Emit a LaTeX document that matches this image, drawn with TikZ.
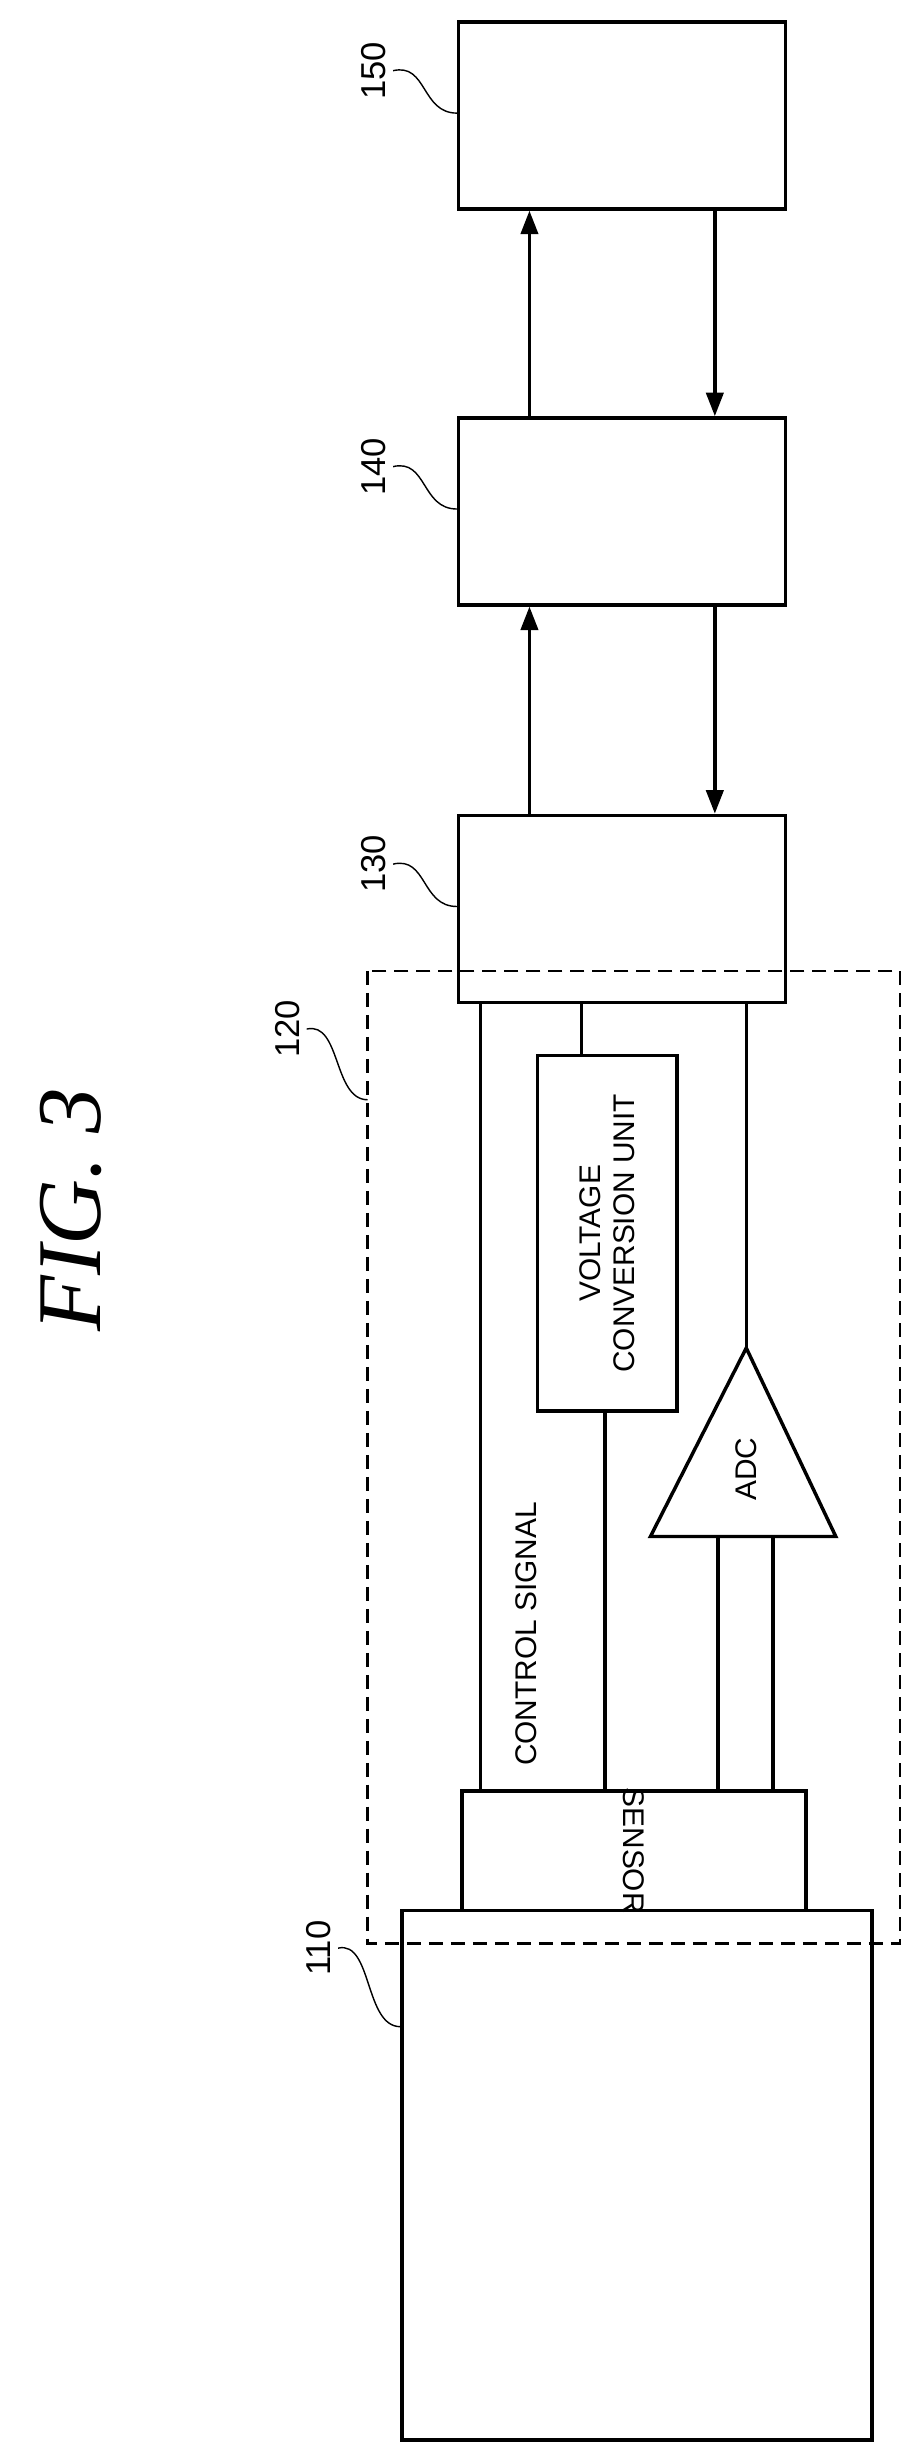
\documentclass[tikz,border=0pt]{standalone}
\usepackage{fontspec}
\setmainfont{Liberation Sans}
\newfontfamily\figfont{Liberation Serif}
\usetikzlibrary{arrows.meta}
\tikzstyle{blk} = [draw, line width=2.2pt, inner sep=0pt]
\tikzstyle{lbl} = [rotate=90, font=\fontsize{22}{22}\selectfont]
\tikzstyle{txt} = [rotate=90, font=\fontsize{19}{22}\selectfont, align=center]
\tikzset{>={Triangle[length=15pt,width=11pt]}, every picture/.style={line width=2.2pt}}
\begin{document}
\begin{tikzpicture}[x=1pt, y=-1pt]
\useasboundingbox (0,0) rectangle (585,1562);
\node[rotate=90, font=\figfont\itshape\fontsize{58}{58}\selectfont] (fig) at (45,770) {FIG. 3};
% blocks
\node[blk, minimum width=208pt, minimum height=119pt] (b150) at (396,73.5) {};
\node[blk, minimum width=208pt, minimum height=119pt] (b140) at (396,325.5) {};
\node[blk, minimum width=208pt, minimum height=119pt] (b130) at (396,578.5) {};
\node[blk, minimum width=299pt, minimum height=337pt] (b110) at (405.5,1384.5) {};
\node[blk, minimum width=219pt, minimum height=76pt] (sensor) at (403.5,1178) {};
\node[rotate=270, anchor=center, font=\fontsize{19}{22}\selectfont] (stext) at (403.5,1178) {SENSOR};
\node[blk, minimum width=89pt, minimum height=226pt] (vcu) at (386.5,785) {};
\node[txt] at (vcu) {VOLTAGE\\CONVERSION UNIT};
\draw[dash pattern=on 9pt off 5pt, line width=1.6pt] (234,618) rectangle (573,1237);
\coordinate (g120) at (234,700);
% adc
\coordinate (apex) at (475,858);
\coordinate (bl) at (414,978);
\coordinate (br) at (532,978);
\draw[line join=miter] (apex) -- (bl) -- (br) -- cycle;
\node[txt] (adc) at (475,935) {ADC};
% labels
\node[lbl] (l150) at (238,45) {150};
\node[lbl] (l140) at (238,297) {140};
\node[lbl] (l130) at (238,550) {130};
\node[lbl] (l120) at (183,655) {120};
\node[lbl] (l110) at (203,1240) {110};
\draw[line width=0.9pt] (l150.south) .. controls (272,40) and (268,72) .. (b150.west|-0,72);
\draw[line width=0.9pt] (l140.south) .. controls (272,292) and (268,324) .. (b140.west|-0,324);
\draw[line width=0.9pt] (l130.south) .. controls (272,545) and (268,577) .. (b130.west|-0,577);
\draw[line width=0.9pt] (l120.south) .. controls (217,650) and (212,700) .. (g120);
\draw[line width=0.9pt] (l110.south) .. controls (237,1235) and (232,1290) .. (b110.west|-0,1290);
% arrows
\draw[->] (b140.north-|337,0) -- (b150.south-|337,0);
\draw[->] (b150.south-|455,0) -- (b140.north-|455,0);
\draw[->] (b130.north-|337,0) -- (b140.south-|337,0);
\draw[->] (b140.south-|455,0) -- (b130.north-|455,0);
% lines
\draw (b130.south-|306,0) -- (sensor.north-|306,0);
\node[txt] at (335,1040) {CONTROL SIGNAL};
\draw (b130.south-|370,0) -- (vcu.north-|370,0);
\draw (vcu.south-|385,0) -- (sensor.north-|385,0);
\draw (b130.south-|475,0) -- (apex);
\draw (457,978) -- (sensor.north-|457,0);
\draw (492,978) -- (sensor.north-|492,0);
\end{tikzpicture}
\end{document}
